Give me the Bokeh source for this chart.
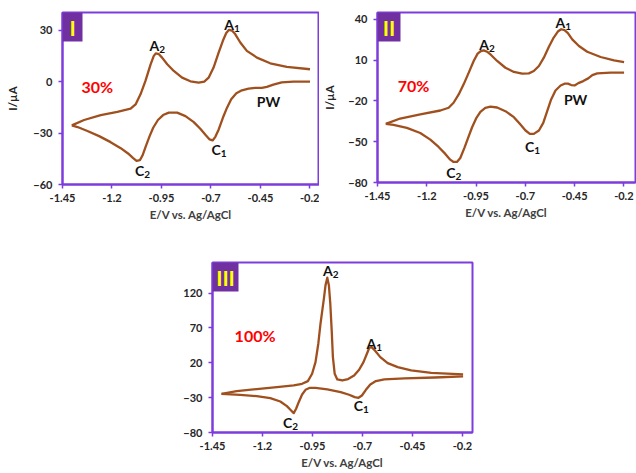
from bokeh.plotting import figure
from bokeh.layouts import column, row, Spacer
from bokeh.models import Label, BoxAnnotation, FixedTicker, Range1d
from bokeh.embed import file_html
from bokeh.resources import INLINE

# ---------------- data ----------------
E_TICKS = [-1.45, -1.2, -0.95, -0.7, -0.45, -0.2]
E_TICK_LABELS = {-1.45: "-1.45", -1.2: "-1.2", -0.95: "-0.95", -0.7: "-0.7", -0.45: "-0.45", -0.2: "-0.2"}

# Panel I (30%): anodic branch (left to right) and cathodic branch (right to left)
E1_up = [-1.403, -1.341, -1.257, -1.173, -1.106, -1.081, -1.056, -1.031, -1.005, -0.989, -0.979, -0.963,
         -0.947, -0.921, -0.888, -0.846, -0.804, -0.762, -0.734, -0.712, -0.687, -0.661, -0.640, -0.623,
         -0.609, -0.594, -0.578, -0.552, -0.519, -0.468, -0.401, -0.317, -0.200]
I1_up = [-25.5, -22.4, -19.5, -17.7, -15.8, -13.3, -7.4, 0.4, 10.1, 15.0, 16.4, 16.0,
         14.0, 10.1, 6.2, 2.3, 0.2, -0.6, 0.0, 2.3, 8.2, 17.0, 23.8, 28.3,
         30.2, 29.8, 27.7, 22.8, 17.9, 14.0, 10.7, 8.6, 7.2]
E1_dn = [-0.200, -0.284, -0.343, -0.385, -0.418, -0.443, -0.477, -0.510, -0.544, -0.572, -0.598, -0.619,
         -0.640, -0.661, -0.678, -0.692, -0.707, -0.725, -0.754, -0.787, -0.829, -0.871, -0.913, -0.942,
         -0.968, -0.992, -1.010, -1.029, -1.046, -1.059, -1.076, -1.093, -1.119, -1.156, -1.207, -1.265,
         -1.324, -1.374, -1.403]
I1_dn = [0.0, 0.0, -0.4, -1.8, -3.1, -3.7, -3.7, -4.1, -5.1, -6.8, -10.3, -15.2,
         -21.1, -27.9, -32.2, -34.3, -33.7, -31.4, -27.5, -23.6, -20.1, -18.1, -18.1, -19.5,
         -22.4, -26.9, -31.8, -37.6, -43.1, -45.8, -46.2, -44.6, -41.9, -38.8, -35.3, -31.8,
         -28.8, -26.5, -25.5]

# Panel II (70%)
E2_up = [-1.408, -1.335, -1.233, -1.131, -1.089, -1.064, -1.038, -1.013, -0.987, -0.962, -0.942, -0.925,
         -0.911, -0.894, -0.874, -0.843, -0.801, -0.758, -0.716, -0.682, -0.657, -0.631, -0.606, -0.581,
         -0.556, -0.535, -0.518, -0.501, -0.484, -0.462, -0.428, -0.386, -0.318, -0.250, -0.199]
I2_up = [-36.9, -33.0, -30.0, -27.1, -25.1, -21.4, -15.3, -7.9, 0.7, 9.3, 14.7, 16.6,
         17.1, 16.1, 13.7, 9.3, 4.3, 1.2, 0.0, 0.2, 1.9, 5.6, 11.7, 19.6,
         26.5, 30.9, 32.6, 31.9, 29.7, 25.2, 20.3, 16.1, 12.2, 9.8, 8.5]
E2_dn = [-0.199, -0.267, -0.335, -0.360, -0.381, -0.406, -0.431, -0.450, -0.467, -0.484, -0.501, -0.521,
         -0.547, -0.569, -0.589, -0.609, -0.631, -0.657, -0.677, -0.699, -0.728, -0.758, -0.801, -0.843,
         -0.877, -0.903, -0.928, -0.948, -0.970, -0.987, -1.009, -1.030, -1.047, -1.064, -1.081, -1.106,
         -1.140, -1.182, -1.233, -1.301, -1.369, -1.408]
I2_dn = [0.7, 0.7, 0.2, -1.1, -3.5, -5.5, -7.0, -8.7, -8.4, -7.4, -7.4, -8.7,
         -12.4, -19.0, -27.6, -36.2, -41.8, -44.3, -44.3, -41.8, -36.9, -32.0, -27.6, -24.9,
         -24.2, -25.1, -28.1, -32.5, -39.4, -46.0, -54.6, -62.0, -64.9, -64.9, -63.2, -59.0,
         -53.9, -48.5, -43.6, -39.9, -37.7, -36.9]

# Panel III (100%)
E3_up = [-1.405, -1.329, -1.229, -1.128, -1.044, -1.002, -0.973, -0.952, -0.935, -0.921, -0.910, -0.901,
         -0.893, -0.885, -0.876, -0.868, -0.861, -0.854, -0.848, -0.839, -0.826, -0.801, -0.772, -0.742,
         -0.717, -0.695, -0.678, -0.666, -0.655, -0.638, -0.611, -0.574, -0.524, -0.457, -0.356, -0.197]
I3_up = [-24.5, -20.7, -17.8, -14.9, -12.5, -10.1, -6.3, 4.2, 21.0, 47.3, 76.0, 95.1,
         111.9, 131.0, 142.0, 131.0, 104.7, 66.4, 28.1, 4.2, -3.9, -5.4, -3.4, 1.8,
         10.0, 21.0, 32.9, 41.5, 42.5, 37.7, 28.1, 19.5, 13.8, 9.0, 5.6, 3.3]
E3_dn = [-0.197, -0.339, -0.490, -0.591, -0.633, -0.661, -0.683, -0.703, -0.720, -0.739, -0.767, -0.809,
         -0.876, -0.935, -0.963, -0.985, -1.002, -1.019, -1.032, -1.044, -1.057, -1.078, -1.111, -1.161,
         -1.229, -1.312, -1.405]
I3_dn = [0.4, -1.1, -2.5, -3.9, -6.3, -11.1, -18.8, -26.9, -30.2, -29.3, -25.9, -22.1,
         -18.3, -15.9, -15.9, -18.8, -25.5, -36.5, -46.0, -52.2, -48.4, -42.2, -35.5, -30.7,
         -27.8, -26.0, -24.5]

Y1_TICKS = [30, 0, -30, -60]
Y2_TICKS = [40, 10, -20, -50, -80]
Y3_TICKS = [120, 70, 20, -30, -80]

# peak annotations: (letter, subscript, E, I)
PEAKS1 = [("A", "2", -0.972, 21.0), ("A", "1", -0.594, 33.5), ("C", "1", -0.661, -39.6),
          ("C", "2", -1.047, -52.0), ("PW", "", -0.410, -11.7)]
PEAKS2 = [("A", "2", -0.894, 21.5), ("A", "1", -0.508, 37.5), ("C", "1", -0.665, -53.4),
          ("C", "2", -1.064, -72.3), ("PW", "", -0.445, -19.0)]
PEAKS3 = [("A", "2", -0.859, 152.5), ("A", "1", -0.641, 47.3), ("C", "1", -0.708, -41.0),
          ("C", "2", -1.061, -65.0)]

PURPLE = "#7d3cdc"
BOX = "#7030a0"
CURVE = "#a0501e"
FONT = "Lato"


def panel(E_up, I_up, E_dn, I_dn, xr, yr, yticks, fw, fh, borders, numeral, box_w,
          pct, pct_pos, peaks, ylabel_standoff=None):
    bl, br, bt, bb = borders
    p = figure(frame_width=fw, frame_height=fh, x_range=Range1d(*xr), y_range=Range1d(*yr),
               output_backend="svg", toolbar_location=None,
               min_border_left=bl, min_border_right=br, min_border_top=bt, min_border_bottom=bb)
    p.grid.visible = False
    p.background_fill_color = "white"
    p.border_fill_color = "white"
    p.outline_line_color = PURPLE
    p.outline_line_width = 2

    # forward and reverse sweeps, left open at the switching potential
    p.line(E_up, I_up, line_color=CURVE, line_width=2.3, line_join="round")
    p.line(E_dn, I_dn, line_color=CURVE, line_width=2.3, line_join="round")

    for ax in (p.xaxis[0], p.yaxis[0]):
        ax.axis_line_color = PURPLE
        ax.axis_line_width = 2
        ax.major_tick_line_color = PURPLE
        ax.major_tick_line_width = 1.5
        ax.major_tick_out = 4
        ax.major_tick_in = 0
        ax.minor_tick_line_color = None
        ax.major_label_text_font = FONT
        ax.major_label_text_font_style = "bold"
        ax.major_label_text_font_size = "11px"
        ax.major_label_text_color = "#262626"
        ax.axis_label_text_font = FONT
        ax.axis_label_text_font_style = "bold"
        ax.axis_label_text_font_size = "11.5px"
        ax.axis_label_text_color = "#404040"

    p.xaxis[0].ticker = FixedTicker(ticks=E_TICKS)
    p.xaxis[0].major_label_overrides = E_TICK_LABELS
    p.xaxis[0].major_label_standoff = 5
    p.xaxis[0].axis_label = "E/V vs. Ag/AgCl"
    p.xaxis[0].axis_label_standoff = 3

    p.yaxis[0].ticker = FixedTicker(ticks=yticks)
    p.yaxis[0].major_label_standoff = 6
    if ylabel_standoff is not None:
        p.yaxis[0].axis_label = "I/µA"
        p.yaxis[0].axis_label_standoff = ylabel_standoff
        p.yaxis[0].axis_label_text_color = "#262626"

    # numbered tag in the top-left corner
    p.add_layout(BoxAnnotation(left=0, right=box_w, top=fh, bottom=fh - 29,
                               left_units="screen", right_units="screen",
                               top_units="screen", bottom_units="screen",
                               fill_color=BOX, fill_alpha=1, line_color=None))
    p.add_layout(Label(x=box_w / 2, y=fh - 15, x_units="screen", y_units="screen", text=numeral,
                       text_align="center", text_baseline="middle", text_color="#ffff00",
                       text_font=FONT, text_font_style="bold", text_font_size="21px"))

    p.add_layout(Label(x=pct_pos[0], y=pct_pos[1], text=pct, text_align="center",
                       text_baseline="middle", text_color="#ff0000", text_font=FONT,
                       text_font_style="bold", text_font_size="16px"))

    for letter, sub, x, y in peaks:
        if sub:
            p.add_layout(Label(x=x, y=y, x_offset=2, text=letter, text_align="right",
                               text_baseline="middle", text_color="#111111", text_font=FONT,
                               text_font_style="bold", text_font_size="14px"))
            p.add_layout(Label(x=x, y=y, x_offset=2, y_offset=-4, text=sub, text_align="left",
                               text_baseline="middle", text_color="#111111", text_font=FONT,
                               text_font_style="bold", text_font_size="10px"))
        else:
            p.add_layout(Label(x=x, y=y, text=letter, text_align="center",
                               text_baseline="middle", text_color="#111111", text_font=FONT,
                               text_font_style="bold", text_font_size="14px"))
    return p


p1 = panel(E1_up, I1_up, E1_dn, I1_dn, (-1.45, -0.152), (-60, 40.3), Y1_TICKS,
           257, 172, (62, 0, 10, 46), "I", 20, "30%", (-1.274, -3.0), PEAKS1,
           ylabel_standoff=11)
p2 = panel(E2_up, I2_up, E2_dn, I2_dn, (-1.45, -0.141), (-80, 44.9), Y2_TICKS,
           258, 170, (58, 1, 12, 46), "II", 23, "70%", (-1.267, -8.7), PEAKS2,
           ylabel_standoff=9)
p3 = panel(E3_up, I3_up, E3_dn, I3_dn, (-1.45, -0.15), (-80, 163.8), Y3_TICKS,
           260, 170, (50, 5, 34, 41), "III", 26, "100%", (-1.237, 59.0), PEAKS3)

layout = column(row(p1, p2), row(Spacer(width=162, height=245), p3))

open("out.html", "w").write(file_html(layout, INLINE))
